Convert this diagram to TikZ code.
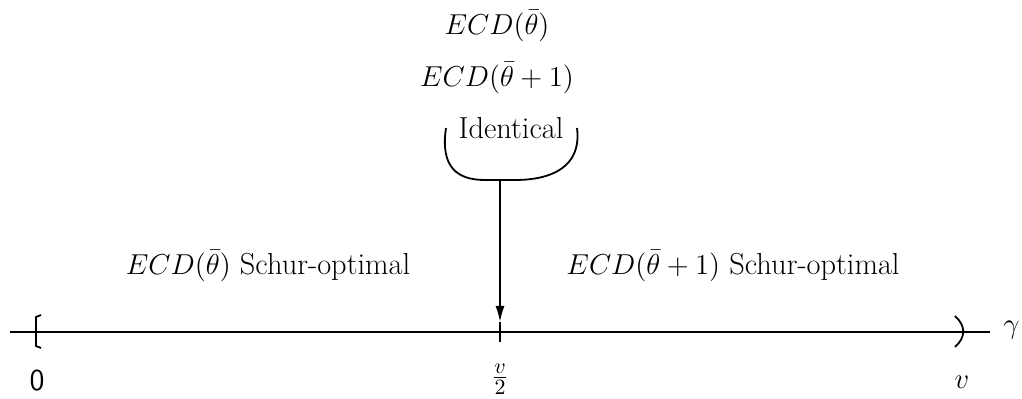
\documentclass[tikz,border=0pt]{standalone}
\usetikzlibrary{arrows.meta}
\begin{document}
\begin{tikzpicture}[x=0.5pt,y=-0.5pt,
  lbl/.style={inner sep=0pt,font=\fontsize{15.2}{18}\selectfont},
  ln/.style={line width=1.2pt},
  thin/.style={line width=0.9pt}]
\useasboundingbox (0,0) rectangle (1022,399);
% texts at top
\node[lbl] (t1) at (497,26) {$ECD(\bar\theta)$};
\node[lbl] (t2) at (497,78) {$ECD(\bar\theta+1)$};
\node[lbl] (t3) at (511,128) {Identical};
% region labels
\node[lbl] (left) at (268,266) {$ECD(\bar\theta)$ Schur-optimal};
\node[lbl] (right) at (733,266) {$ECD(\bar\theta+1)$ Schur-optimal};
% axis
\coordinate (a0) at (10,332);
\coordinate (a1) at (990,332);
\draw[ln] (a0) -- (a1);
\node[lbl,anchor=west] (g) at (1003,330) {$\gamma$};
% left bracket
\draw[thin] (41,315) -- (36,317) -- (36,346) -- (41,348);
% right paren
\draw[thin] (955,316) .. controls (966,326) and (966,337) .. (955,347);
% tick at middle
\coordinate (tt) at (500,322);
\coordinate (tb) at (500,342);
\draw[thin] (tt) -- (tb);
% brace shape
\coordinate (bl) at (446,128);
\coordinate (br) at (577,128);
\coordinate (bm) at (500,180);
\draw[thin] (bl) .. controls (440,168) and (458,180) .. (485,180) -- (515,180) .. controls (550,180) and (582,168) .. (br);
\draw[thin,-{Latex[length=8pt,width=4.5pt]}] (bm) -- (tt);
% axis labels
\node[lbl] (z) at (37,381) {\textsf{0}};
\node[lbl] (h) at (500,379) {$\frac{v}{2}$};
\node[lbl] (v) at (962,382) {$v$};
\end{tikzpicture}
\end{document}
